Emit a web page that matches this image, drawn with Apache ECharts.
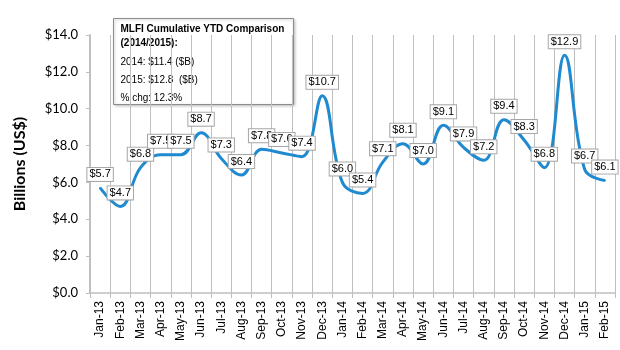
<!DOCTYPE html>
<html>
<head>
<meta charset="utf-8">
<script src="https://cdn.jsdelivr.net/npm/echarts@6/dist/echarts.min.js"></script>
<style>
  html, body { margin: 0; padding: 0; background: #fff; }
  #chart { width: 620px; height: 350px; }
</style>
</head>
<body>
<div id="chart"></div>
<script>
const months = ['Jan-13', 'Feb-13', 'Mar-13', 'Apr-13', 'May-13', 'Jun-13', 'Jul-13', 'Aug-13', 'Sep-13',
  'Oct-13', 'Nov-13', 'Dec-13', 'Jan-14', 'Feb-14', 'Mar-14', 'Apr-14', 'May-14', 'Jun-14', 'Jul-14',
  'Aug-14', 'Sep-14', 'Oct-14', 'Nov-14', 'Dec-14', 'Jan-15', 'Feb-15'];
const volumes = [5.7, 4.7, 6.8, 7.5, 7.5, 8.7, 7.3, 6.4, 7.8, 7.6, 7.4, 10.7, 6.0,
  5.4, 7.1, 8.1, 7.0, 9.1, 7.9, 7.2, 9.4, 8.3, 6.8, 12.9, 6.7, 6.1];
const noteLines = ['2014: $11.4 ($B)', '2015: $12.8  ($B)', '% chg: 12.3%'];

const chart = echarts.init(document.getElementById('chart'));
const grey = '#bfbfbf';
const blue = '#1f8ad0';

const option = {
  animation: false,
  grid: { left: 90, right: 5, top: 35, bottom: 57 },
  xAxis: {
    type: 'category',
    data: months,
    boundaryGap: true,
    axisLine: { lineStyle: { color: grey, width: 1.5 } },
    axisTick: { show: true, length: 5, lineStyle: { color: grey } },
    splitLine: { show: true, lineStyle: { color: grey, width: 1 } },
    axisLabel: {
      rotate: 90, interval: 0, margin: 8,
      fontFamily: 'Liberation Sans', fontSize: 12, color: '#000'
    }
  },
  yAxis: {
    type: 'value',
    min: 0, max: 14, interval: 2,
    name: 'Billions (US$)',
    nameLocation: 'middle',
    nameGap: 62,
    nameTextStyle: { fontFamily: 'Lato', fontWeight: 'bold', fontSize: 16, color: '#000' },
    axisLine: { show: true, lineStyle: { color: grey, width: 2 } },
    axisTick: { show: true, length: 4, lineStyle: { color: grey } },
    splitLine: { show: false },
    axisLabel: {
      margin: 12, fontFamily: 'Lato', fontSize: 13, color: '#000',
      formatter: v => '$' + v.toFixed(1)
    }
  },
  series: [{
    type: 'line',
    data: volumes,
    smooth: 0.4,
    showSymbol: true,
    symbol: 'circle',
    symbolSize: 2,
    itemStyle: { color: blue },
    lineStyle: { color: blue, width: 3 },
    label: {
      show: true,
      position: 'top',
      distance: 6,
      formatter: p => '$' + p.value.toFixed(1),
      fontFamily: 'Liberation Sans',
      fontSize: 11,
      color: '#000',
      backgroundColor: '#fff',
      borderColor: '#a6a6a6',
      borderWidth: 1,
      padding: [1, 2, 1, 2]
    },
    labelLayout: { hideOverlap: false }
  }],
  graphic: [{
    type: 'group',
    left: 113, top: 18,
    children: [
      {
        type: 'rect',
        shape: { x: 0, y: 0, width: 180, height: 86 },
        style: { fill: '#fff', stroke: '#8c8c8c', lineWidth: 1, shadowBlur: 3, shadowColor: 'rgba(0,0,0,0.25)', shadowOffsetX: 1, shadowOffsetY: 1 }
      },
      {
        type: 'text', left: 7, top: 4,
        style: { text: 'MLFI Cumulative YTD Comparison\n(2014/2015):', fontFamily: 'Liberation Sans', fontWeight: 'bold', fontSize: 10, lineHeight: 14, fill: '#000' }
      },
      {
        type: 'text', left: 7, top: 35,
        style: { text: noteLines.join('\n'), fontFamily: 'Liberation Sans', fontSize: 10, lineHeight: 18, fill: '#000' }
      }
    ]
  }]
};
chart.setOption(option);
</script>
</body>
</html>
